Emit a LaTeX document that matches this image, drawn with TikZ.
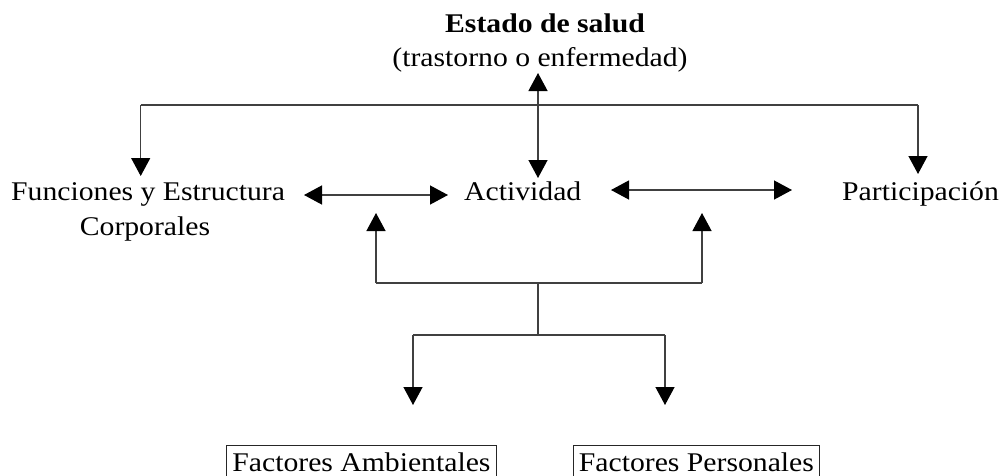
\documentclass[tikz,border=0pt]{standalone}
\usepackage{fontspec}
\setmainfont{Liberation Serif}[FakeStretch=1.1]
\usetikzlibrary{arrows.meta}
\begin{document}
\begin{tikzpicture}[x=1pt,y=-1pt,
  every node/.style={inner sep=0pt, font=\fontsize{27}{34}\selectfont},
  conn/.style={line width=1.3pt, draw=black!75},
  tip/.style={conn, -{Triangle[length=18pt,width=19pt,color=black]}},
  twotip/.style={conn, {Triangle[length=18pt,width=19pt,color=black]}-{Triangle[length=18pt,width=19pt,color=black]}},
  factorbox/.style={draw=black!85, line width=0.9pt, anchor=north west, minimum height=33pt}]
\clip (0,0) rectangle (1003,475);
\fill[white] (0,0) rectangle (1003,475);
% texts
\node[anchor=base, font=\fontsize{27}{34}\selectfont\bfseries] (estado) at (545,32) {Estado de salud};
\node[anchor=base] (trast) at (540,66) {(trastorno o enfermedad)};
\node[anchor=base west] (func) at (11,200) {Funciones y Estructura};
\node[anchor=base] (corp) at (145,235) {Corporales};
\node[anchor=base west] (act) at (464,200) {Actividad};
\node[anchor=base west] (part) at (842,200) {Participación};
\node[factorbox, minimum width=270pt] (amb) at (226,445) {Factores Ambientales};
\node[factorbox, minimum width=246pt] (pers) at (573,445) {Factores Personales};
% coordinates
\coordinate (vtop) at (538,73);
\coordinate (vbot) at (538,178);
\coordinate (hl) at (140.7,105);
\coordinate (hr) at (918,105);
\coordinate (hlTip) at (140.7,176);
\coordinate (hrTip) at (918,174);
\coordinate (fa1) at (304,195);
\coordinate (fa2) at (448,195);
\coordinate (ap1) at (611,190);
\coordinate (ap2) at (792,190);
\coordinate (ul) at (376,283);
\coordinate (ur) at (702,283);
\coordinate (ulTip) at (376,213);
\coordinate (urTip) at (702,213);
\coordinate (mc) at (538,283);
\coordinate (mb) at (538,335);
\coordinate (bl) at (413,335);
\coordinate (br) at (665,335);
\coordinate (blTip) at (413,405);
\coordinate (brTip) at (665,405);
% connectors
\draw[twotip] (vbot) -- (vtop);
\draw[conn] (hl) -- (hr);
\draw[tip] (hl) -- (hlTip);
\draw[tip] (hr) -- (hrTip);
\draw[twotip] (fa1) -- (fa2);
\draw[twotip] (ap1) -- (ap2);
\draw[conn] (ul) -- (ur);
\draw[tip] (ul) -- (ulTip);
\draw[tip] (ur) -- (urTip);
\draw[conn] (mc) -- (mb);
\draw[conn] (bl) -- (br);
\draw[tip] (bl) -- (blTip);
\draw[tip] (br) -- (brTip);
\end{tikzpicture}
\end{document}
